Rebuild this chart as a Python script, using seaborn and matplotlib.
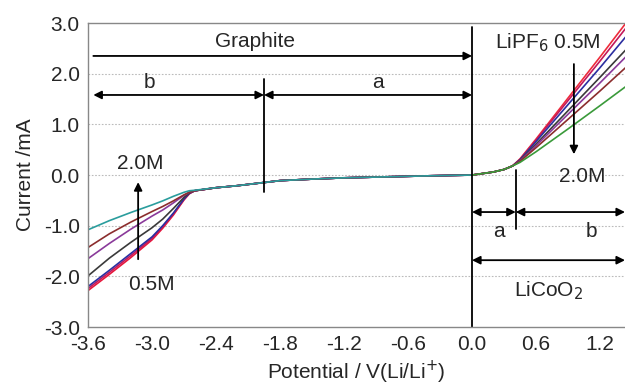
import numpy as np
import pandas as pd
import matplotlib
matplotlib.use("Agg")
import matplotlib.pyplot as plt
import seaborn as sns

# concentrations of LiPF6 (0.5M ... 2.0M)
conc = ["0.50M", "0.75M", "1.00M", "1.25M", "1.50M", "1.75M", "2.00M"]

# graphite side (negative scan)
pot_neg = [-3.6, -3.4, -3.2, -3.0, -2.9, -2.8, -2.7, -2.65, -2.6, -2.4, -2.2,
           -2.0, -1.8, -1.5, -1.2, -0.8, -0.4, 0.0]
tail_neg = [-0.25, -0.21, -0.16, -0.11, -0.08, -0.055, -0.035, -0.015, 0.0]
cur_neg = {
    "0.50M": [-2.28, -1.96, -1.63, -1.28, -1.05, -0.79, -0.49, -0.37, -0.31] + tail_neg,
    "0.75M": [-2.24, -1.92, -1.59, -1.25, -1.02, -0.77, -0.48, -0.36, -0.31] + tail_neg,
    "1.00M": [-2.20, -1.88, -1.55, -1.22, -1.00, -0.75, -0.47, -0.36, -0.31] + tail_neg,
    "1.25M": [-1.99, -1.64, -1.33, -1.04, -0.87, -0.66, -0.44, -0.35, -0.31] + tail_neg,
    "1.50M": [-1.65, -1.35, -1.07, -0.81, -0.69, -0.55, -0.40, -0.34, -0.31] + tail_neg,
    "1.75M": [-1.43, -1.16, -0.93, -0.72, -0.62, -0.51, -0.39, -0.34, -0.31] + tail_neg,
    "2.00M": [-1.08, -0.90, -0.74, -0.59, -0.51, -0.42, -0.34, -0.31, -0.30] + tail_neg,
}

# LiCoO2 side (positive scan)
pot_pos = [0.0, 0.1, 0.2, 0.3, 0.38, 0.45, 0.6, 0.9, 1.2, 1.45]
head_pos = [0.0, 0.03, 0.06, 0.11, 0.18]
cur_pos = {
    "0.50M": head_pos + [0.32, 0.71, 1.52, 2.33, 3.02],
    "0.75M": head_pos + [0.31, 0.69, 1.47, 2.25, 2.92],
    "1.00M": head_pos + [0.30, 0.66, 1.39, 2.12, 2.75],
    "1.25M": head_pos + [0.29, 0.61, 1.27, 1.93, 2.49],
    "1.50M": head_pos + [0.28, 0.58, 1.20, 1.82, 2.35],
    "1.75M": head_pos + [0.27, 0.54, 1.10, 1.66, 2.14],
    "2.00M": head_pos + [0.25, 0.46, 0.91, 1.37, 1.76],
}

colors_neg = ["#e8173a", "#c2185b", "#2b2fa0", "#3a3a3a", "#8a3a9a", "#8b2d2d", "#2a9d9d"]
colors_pos = ["#ee2b3b", "#c2185b", "#2b2fa0", "#3a3a3a", "#8a3a9a", "#8b2d2d", "#3a9a3a"]

rows = []
for c in conc:
    for p, v in zip(pot_neg, cur_neg[c]):
        rows.append(("neg", c, p, v))
    for p, v in zip(pot_pos, cur_pos[c]):
        rows.append(("pos", c, p, v))
df = pd.DataFrame(rows, columns=["scan", "conc", "pot", "cur"])

sns.set_style("white")
plt.rcParams["font.family"] = ["Liberation Sans", "DejaVu Sans"]
fs = 15

fig = plt.figure(figsize=(6.25, 3.88), dpi=100)
ax = fig.add_axes([0.1408, 0.157, 0.8592, 0.7837])

sns.lineplot(data=df[df.scan == "neg"], x="pot", y="cur", hue="conc",
             palette=colors_neg, sort=False, estimator=None, lw=1.2,
             legend=False, ax=ax)
sns.lineplot(data=df[df.scan == "pos"], x="pot", y="cur", hue="conc",
             palette=colors_pos, sort=False, estimator=None, lw=1.2,
             legend=False, ax=ax)

ax.set_xlim(-3.6, 1.434)
ax.set_ylim(-3.0, 3.0)
ax.set_xticks([-3.6, -3.0, -2.4, -1.8, -1.2, -0.6, 0.0, 0.6, 1.2])
ax.set_xticklabels(["-3.6", "-3.0", "-2.4", "-1.8", "-1.2", "-0.6", "0.0", "0.6", "1.2"])
ax.set_yticks([-3, -2, -1, 0, 1, 2, 3])
ax.set_yticklabels(["-3.0", "-2.0", "-1.0", "0.0", "1.0", "2.0", "3.0"])
ax.tick_params(axis="x", direction="in", length=4, color="#888888",
               labelsize=fs, pad=6)
ax.tick_params(axis="y", length=0, labelsize=fs, pad=6)
for y in [-2, -1, 0, 1, 2]:
    ax.axhline(y, color="#bbbbbb", ls=(0, (1.5, 1.5)), lw=0.8, zorder=0)
for s in ["left", "bottom", "top"]:
    ax.spines[s].set_color("#888888")
    ax.spines[s].set_linewidth(1.0)
ax.spines["right"].set_visible(False)
ax.set_xlabel("Potential / V(Li/Li$^{+}$)", fontsize=fs)
ax.set_ylabel("Current /mA", fontsize=fs)
ax.xaxis.labelpad = 3
ax.yaxis.labelpad = 6

k = dict(color="black", lw=1.3)
hd = dict(arrowstyle="<|-|>", color="black", lw=1.3, mutation_scale=12,
          shrinkA=0, shrinkB=0)
one = dict(arrowstyle="-|>", color="black", lw=1.3, mutation_scale=12,
           shrinkA=0, shrinkB=0)

# vertical divider at 0 V
ax.plot([0.0, 0.0], [2.92, -3.0], **k)
# Graphite span
ax.annotate("", xy=(0.0, 2.35), xytext=(-3.55, 2.35), arrowprops=one)
ax.text(-2.03, 2.64, "Graphite", ha="center", va="center", fontsize=fs)
# b / a on graphite
ax.plot([-1.95, -1.95], [1.9, -0.33], **k)
ax.annotate("", xy=(-1.95, 1.58), xytext=(-3.55, 1.58), arrowprops=hd)
ax.annotate("", xy=(0.0, 1.58), xytext=(-1.95, 1.58), arrowprops=hd)
ax.text(-3.02, 1.82, "b", ha="center", va="center", fontsize=fs)
ax.text(-0.88, 1.82, "a", ha="center", va="center", fontsize=fs)
# a / b on LiCoO2
ax.plot([0.41, 0.41], [0.1, -1.07], **k)
ax.annotate("", xy=(0.41, -0.73), xytext=(0.0, -0.73), arrowprops=hd)
ax.annotate("", xy=(1.434, -0.73), xytext=(0.41, -0.73), arrowprops=hd)
ax.text(0.25, -1.12, "a", ha="center", va="center", fontsize=fs)
ax.text(1.12, -1.12, "b", ha="center", va="center", fontsize=fs)
ax.annotate("", xy=(1.434, -1.68), xytext=(0.0, -1.68), arrowprops=hd)
ax.text(0.72, -2.29, "LiCoO$_2$", ha="center", va="center", fontsize=fs)
# concentration arrows
ax.annotate("", xy=(0.955, 0.41), xytext=(0.955, 2.19), arrowprops=one)
ax.text(0.71, 2.62, "LiPF$_6$ 0.5M", ha="center", va="center", fontsize=fs)
ax.text(1.03, -0.02, "2.0M", ha="center", va="center", fontsize=fs)
ax.annotate("", xy=(-3.13, -0.14), xytext=(-3.13, -1.66), arrowprops=one)
ax.text(-3.11, 0.22, "2.0M", ha="center", va="center", fontsize=fs)
ax.text(-3.01, -2.16, "0.5M", ha="center", va="center", fontsize=fs)

fig.savefig("out.png", dpi=100)
